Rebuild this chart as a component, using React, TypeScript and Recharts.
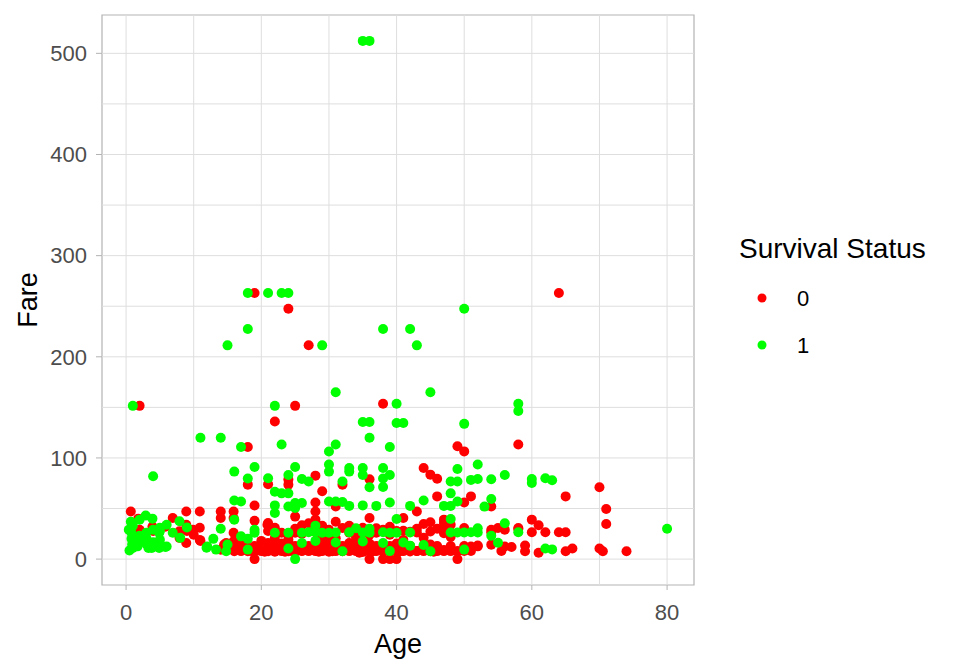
import React from "react";
import {
  ScatterChart,
  Scatter,
  XAxis,
  YAxis,
  ReferenceLine,
  ReferenceArea,
  Label,
} from "recharts";

// [age, fare] pairs
const died: number[][] = [
  // high fares
  [19, 263], [64, 263], [24, 247.5], [27, 211.5], [25, 151.5], [2, 151.5],
  [38, 153.5], [22, 136], [18, 110.9], [49, 111.5], [50, 106.5], [58, 113.3],
  [44, 90], [45, 83.5], [46, 79.5], [28, 82.5], [36, 79], [24, 78.6], [24, 73.6],
  [18, 73.6], [21, 74], [32, 73.6], [29, 67], [70, 71], [65, 62], [46, 62],
  [51, 62], [19, 53], [28, 56], [31, 52], [50, 56], [54, 52], [71, 49.5],
  [43, 47], [28, 47], [25, 42], [28, 39], [31, 37], [36, 40.7], [41, 40.7],
  [47, 39], [45, 36.4], [47, 35.7], [48, 34], [50, 30.8], [54, 29], [55, 30.8],
  [56, 29], [58, 30.8], [58, 29.7], [60, 39], [61, 33.5], [62, 26.5], [60, 26.5],
  [64, 26.5], [65, 26.5], [71, 34.7], [54, 14.3], [57, 12], [59, 13.5], [59, 7.7],
  [55.5, 8], [61, 6.2], [65, 7.75], [66, 10.5], [70, 10.5], [70.5, 7.75],
  [74, 7.8], [21, 35.7], [19, 38], [20.9, 34], [54, 26.5], [56, 12.5], [52, 12.6],
  // children
  [0.7, 47], [1.8, 40], [1.8, 27.5], [1.8, 19], [3.9, 32], [5.8, 32], [6.9, 40.7],
  [7.9, 27.5], [8.9, 47], [8.9, 34], [8.9, 16], [10.9, 47], [10.9, 31],
  [10.9, 19], [9.9, 29], [7.9, 21], [2, 29], [4, 27.9], [9, 27.9], [10, 24],
  [11, 18], [14, 47], [14, 40.7], [14.8, 16], [15.9, 47], [15.9, 40.7],
  [15.9, 26], [15.9, 17.6], [15.9, 9.4], [14.5, 14.5], [14, 9.2],
  // fare 0
  [19, 0], [36, 0], [38, 0], [39, 0], [40, 0], [49, 0],
  // dense low-fare band
  [16, 7.8], [16, 13], [17, 7.9], [17, 14.5], [18, 7.8], [18, 11.5], [19, 7.9],
  [19, 13], [20, 7.9], [20, 9.5], [21, 7.8], [21, 11.5], [21, 16], [22, 7.2],
  [22, 9], [22, 13], [23, 7.9], [23, 10.5], [23, 15.5], [24, 7.8], [24, 13],
  [24, 16.1], [25, 7.1], [25, 9.5], [25, 13], [26, 7.9], [26, 8.7], [26, 14.5],
  [27, 7.9], [27, 10.5], [27, 13], [28, 7.9], [28, 9.5], [28, 14.4], [29, 7.9],
  [29, 10.5], [29, 13], [30, 7.2], [30, 8.05], [30, 13], [30, 16.1], [31, 7.9],
  [31, 10.5], [32, 7.8], [32, 8.05], [32, 13], [33, 7.9], [33, 9.5], [33, 15.9],
  [34, 7.9], [34, 13], [35, 7.1], [35, 8.05], [35, 13], [36, 7.9], [36, 9.5],
  [36, 15.5], [37, 7.9], [37, 13], [38, 7.9], [38, 8.7], [38, 14.5], [39, 7.9],
  [39, 13], [40, 7.9], [40, 9.5], [40, 15.5], [41, 7.9], [41, 14.1], [42, 7.5],
  [42, 8.7], [42, 13], [43, 7.9], [43, 8.1], [44, 7.9], [44, 13], [45, 7.8],
  [45, 8.05], [45, 14.5], [46, 7.9], [46, 13], [47, 7.9], [47, 9], [48, 7.9],
  [48, 13], [49, 7.9], [50, 8.05], [50, 13], [51, 8.05], [51, 12.5], [52, 13.5],
  [28.5, 7.2], [34.5, 6.4], [32.5, 9.5], [36.5, 7.75], [40.5, 7.75], [45.5, 7.2],
  [20.5, 7.2], [18.5, 8.1], [24.5, 8.05], [30.5, 7.75], [23.5, 7.2], [40.5, 14.5],
  [20, 18], [22, 21], [24, 19.5], [25, 26], [26, 25], [28, 26.5], [29, 21],
  [30, 24], [31, 20.5], [33, 26], [34, 21], [36, 24], [37, 26], [38, 29.1],
  [39, 24], [40, 27.7], [41, 19], [42, 27], [43, 26.3], [44, 21], [45, 27.3],
  [47, 25.6], [48, 22], [28, 30.7], [29, 33], [30, 29], [32, 30.7], [34, 28.5],
  [35, 31], [37, 30.5], [39, 32], [41, 28], [43, 30], [44, 34.7], [46, 30],
  [47, 30.5], [23, 26], [24, 24], [21, 27.7], [22, 31], [25, 30], [26, 33.5],
  [27, 35.5], [33, 33],
];

const survived: number[][] = [
  [35, 512.3], [36, 512.3],
  [18, 263], [21, 263], [23, 263], [24, 263], [50, 247.5],
  [18, 227.5], [38, 227.5], [42, 227.5], [15, 211.3], [29, 211.3], [43, 211.3],
  [31, 164.9], [45, 164.9],
  [1, 151.5], [22, 151.5], [40, 153.5], [58, 153.5], [58, 146.5],
  [35, 135.6], [36, 135.6], [40, 134.5], [41, 134.5], [50, 133.7],
  [11, 120], [14, 120], [36, 120], [17, 110.9], [23, 113.3], [31, 113.3],
  [39, 110.9], [30, 106.4], [52, 93.5], [49, 89.1], [25, 91.1], [30, 93.5],
  [30, 86.5], [33, 90], [33, 86.5], [35, 90], [35, 83.2], [38, 90], [39, 83.2],
  [38, 79.7], [19, 91.1], [16, 86.5], [4, 81.9], [24, 83.2],
  [21, 80], [18, 79.7], [26, 79.2], [27, 76.7], [32, 76.7], [36, 71], [38, 71.3],
  [48, 76.7], [49, 76.7], [51, 78.3], [52, 79.2], [54, 78.9], [56, 83.2],
  [60, 79.2], [60, 75.3], [62, 80], [63, 78], [48, 65], [22, 66.6], [23, 65],
  [24, 65], [22, 53.1], [22, 45.5], [24, 52], [25, 55.4], [26, 55.4], [30, 56.9],
  [31, 57], [32, 56.5], [33, 52.6], [35, 53.1], [37, 52.6], [39, 55.9],
  [42, 52.6], [44, 57.9], [47, 52.6], [48, 52.6], [49, 56.9], [53, 51.9],
  [54, 59.4], [16, 57.9], [17, 57], [25, 50.5],
  [48, 39.6], [40, 39.7], [56, 35.5], [52, 30.5], [42, 26.3], [48, 26.3],
  [49, 26.3], [50, 26.3], [51, 26.6], [52, 26.3], [58, 26.5], [54, 23],
  [55, 16.1], [62, 10.5], [63, 9.6], [42, 13.3], [45, 7.7], [50, 9.4], [80, 30],
  // children
  [0.7, 37], [0.4, 29], [0.8, 26], [0.5, 8.5], [1.7, 12.6], [2.9, 43],
  [3.9, 40], [3.8, 11.1], [4.9, 11.1], [5.8, 12], [6.9, 26], [7.9, 37.5],
  [4.9, 26], [6, 34], [6, 12.5], [3.3, 11.1], [0.8, 20], [1, 15.7], [2, 18],
  [3, 20.5], [3, 15], [4, 16.7], [5, 19], [4, 29], [2, 39], [1, 33], [5, 27.9],
  [8, 21], [9, 31.3], [11.9, 11.2], [12.9, 20], [13.3, 9.4], [14, 30],
  [14.8, 7.7], [15, 14.5], [12, 12.5], [1, 11.1], [0.9, 14.4], [2, 23], [3, 26],
  [4, 13.4], [5, 31],
  // adults in the low-fare band
  [25, 0], [24, 26], [22, 26], [26, 26], [27, 26.5], [28, 26.5], [29, 26],
  [30, 26], [31, 26.3], [33, 26.5], [35, 26.3], [36, 26], [38, 26.5], [39, 26],
  [40, 26], [36, 30], [34, 30.5], [28, 33], [19, 29], [16, 39], [17, 22.5],
  [18, 9.4], [19, 26], [18, 20], [26, 16], [28, 18], [31, 16.5], [35, 17.5],
  [38, 16], [41, 16.5], [44, 14], [32, 7.8], [24, 10.5], [39, 7.9],
];

const xTicks = [0, 20, 40, 60, 80];
const yTicks = [0, 100, 200, 300, 400, 500];
const xGrid = [0, 10, 20, 30, 40, 50, 60, 70, 80];
const yGrid = [0, 50, 100, 150, 200, 250, 300, 350, 400, 450, 500];
const legendItems = [
  { label: "0", color: "#FF0000" },
  { label: "1", color: "#00FF00" },
];

const X_DOMAIN: [number, number] = [-3.56, 83.98];
const Y_DOMAIN: [number, number] = [-25.6, 537.9];
const FONT = "'Liberation Sans', Arial, sans-serif";

const toPoints = (rows: number[][]) => rows.map(([age, fare]) => ({ age, fare }));

const dot = (color: string) => (props: any) =>
  <circle cx={props.cx} cy={props.cy} r={5} fill={color} />;

// legend drawn beside the panel, like ggplot's guide on the right
const LegendBox = () => (
  <svg
    width={260}
    height={150}
    style={{ position: "absolute", left: 700, top: 220, fontFamily: FONT }}
  >
    <text x={39} y={38} fontSize={28} fill="#000">
      Survival Status
    </text>
    {legendItems.map((it, i) => (
      <g key={it.label}>
        <circle cx={62} cy={78 + i * 47} r={4.5} fill={it.color} />
        <text x={97} y={86 + i * 47} fontSize={22} fill="#000">
          {it.label}
        </text>
      </g>
    ))}
  </svg>
);

export default function App() {
  return (
    <div style={{ position: "absolute", left: 0, top: 0, width: 960, height: 672, background: "#fff" }}>
      <ScatterChart
        width={960}
        height={672}
        margin={{ top: 15, right: 266, bottom: 0, left: 0 }}
        style={{ fontFamily: FONT }}
      >
        <XAxis
          type="number"
          dataKey="age"
          domain={X_DOMAIN}
          ticks={xTicks}
          allowDataOverflow
          height={87}
          axisLine={false}
          tickSize={5}
          tickMargin={14}
          tickLine={{ stroke: "#b3b3b3" }}
          tick={{ fill: "#4d4d4d", fontSize: 22 }}
        >
          <Label value="Age" position="insideBottom" offset={19} style={{ fontSize: 27, fill: "#000" }} />
        </XAxis>
        <YAxis
          type="number"
          dataKey="fare"
          domain={Y_DOMAIN}
          ticks={yTicks}
          allowDataOverflow
          width={102}
          axisLine={false}
          tickSize={6}
          tickMargin={9}
          tickLine={{ stroke: "#b3b3b3" }}
          tick={{ fill: "#4d4d4d", fontSize: 22 }}
        >
          <Label
            value="Fare"
            angle={-90}
            position="insideLeft"
            offset={27}
            style={{ fontSize: 27, fill: "#000", textAnchor: "middle" }}
          />
        </YAxis>
        {xGrid.map((v) => (
          <ReferenceLine key={"x" + v} x={v} stroke="#dedede" strokeWidth={1} />
        ))}
        {yGrid.map((v) => (
          <ReferenceLine key={"y" + v} y={v} stroke="#dedede" strokeWidth={1} />
        ))}
        <ReferenceArea
          x1={X_DOMAIN[0]}
          x2={X_DOMAIN[1]}
          y1={Y_DOMAIN[0]}
          y2={Y_DOMAIN[1]}
          fill="none"
          stroke="#b3b3b3"
          strokeWidth={1.2}
        />
        <Scatter
          name="0"
          data={toPoints(died)}
          fill="#FF0000"
          shape={dot("#FF0000")}
          isAnimationActive={false}
        />
        <Scatter
          name="1"
          data={toPoints(survived)}
          fill="#00FF00"
          shape={dot("#00FF00")}
          isAnimationActive={false}
        />
      </ScatterChart>
      <LegendBox />
    </div>
  );
}
